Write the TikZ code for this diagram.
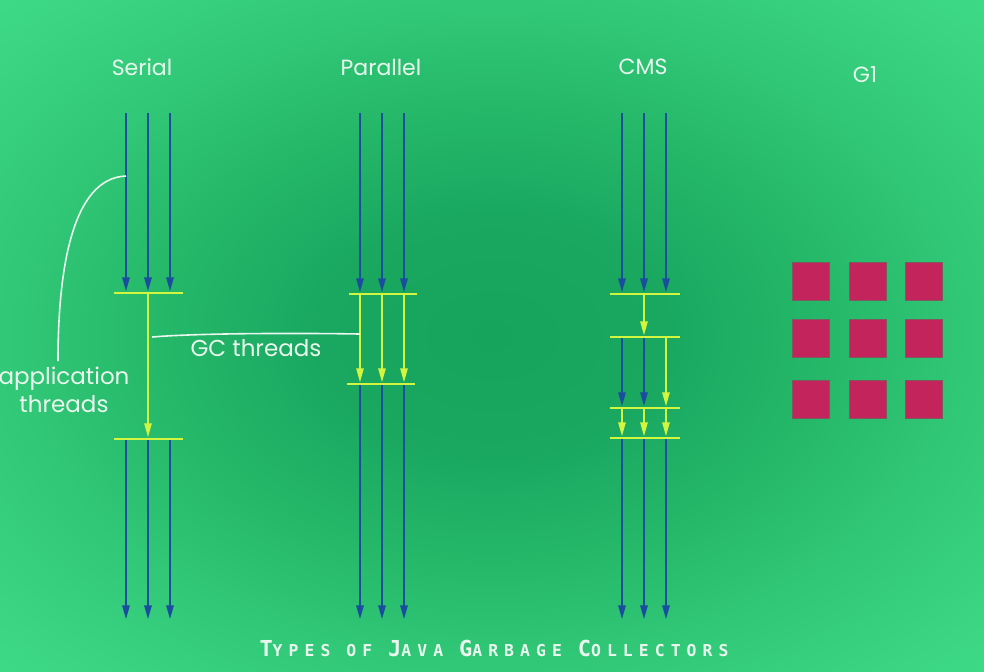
\documentclass[tikz,border=0pt]{standalone}
\usepackage{fontspec}
\setmainfont{Poppins}
\newfontfamily\titlefont[LetterSpace=37]{DejaVu Sans Mono Bold}
\usetikzlibrary{arrows.meta}
\definecolor{bgin}{HTML}{16A35B}
\definecolor{bgmidA}{HTML}{1AA861}
\definecolor{bgmidB}{HTML}{25B869}
\definecolor{bgmidC}{HTML}{33CB7A}
\definecolor{bgedge}{HTML}{3ED987}
\definecolor{bgout}{HTML}{42DC8A}
\definecolor{appblue}{HTML}{1B4D9E}
\definecolor{gcyellow}{HTML}{D2F53F}
\definecolor{region}{HTML}{C4245C}
\definecolor{regionedge}{HTML}{7C5A5E}
\definecolor{labelcol}{HTML}{EAF7EE}
\pgfdeclareradialshading{bgshade}{\pgfpoint{0bp}{0bp}}{color(0bp)=(bgin); color(9bp)=(bgmidA); color(17bp)=(bgmidB); color(26bp)=(bgmidC); color(35bp)=(bgedge); color(50bp)=(bgout)}
\begin{document}
\begin{tikzpicture}[x=0.5pt,y=-0.5pt,
  app/.style={draw=appblue, line width=1.1pt, -{Triangle[width=3.6pt,length=7pt]}, shorten >=0.8pt},
  gc/.style={draw=gcyellow, line width=1pt, -{Triangle[width=3.6pt,length=7pt]}, shorten >=0.8pt},
  bar/.style={draw=gcyellow, line width=1pt},
  note/.style={draw=labelcol, line width=0.8pt},
  lbl/.style={text=labelcol, font=\fontsize{11}{13}\selectfont, inner sep=0pt},
  gclbl/.style={text=labelcol, font=\fontsize{11.5}{14}\selectfont, inner sep=0pt, align=center},
  regionbox/.style={draw=regionedge, line width=0.4pt, fill=region, minimum width=18.5pt, minimum height=19pt, inner sep=0pt}]
\shade[shading=bgshade] (0,0) rectangle (984,671);
\useasboundingbox (0,0) rectangle (984,671);

% headings
\node[lbl] (serial) at (142,67) {Serial};
\node[lbl] (parallel) at (381,67) {Parallel};
\node[lbl] (cms) at (643,67) {CMS};
\node[lbl] (g1) at (865,75) {G1};

% Serial
\foreach \i/\x in {1/126,2/148,3/170} {
  \coordinate (sa\i) at (\x,113);
  \coordinate (sb\i) at (\x,293);
  \coordinate (sc\i) at (\x,439);
  \coordinate (sd\i) at (\x,621);
}
\coordinate (sbL) at (114,293); \coordinate (sbR) at (183,293);
\coordinate (scL) at (114,439); \coordinate (scR) at (183,439);
\foreach \i in {1,2,3} {
  \draw[app] (sa\i) -- (sb\i);
  \draw[app] (sc\i) -- (sd\i);
}
\draw[gc] (sb2) -- (sc2);
\draw[bar] (sbL) -- (sbR);
\draw[bar] (scL) -- (scR);

% Parallel
\foreach \i/\x in {1/360,2/382,3/404} {
  \coordinate (pa\i) at (\x,113);
  \coordinate (pb\i) at (\x,294);
  \coordinate (pc\i) at (\x,384);
  \coordinate (pd\i) at (\x,621);
}
\coordinate (pbL) at (349,294); \coordinate (pbR) at (417,294);
\coordinate (pcL) at (347,384); \coordinate (pcR) at (415,384);
\foreach \i in {1,2,3} {
  \draw[app] (pa\i) -- (pb\i);
  \draw[gc] (pb\i) -- (pc\i);
  \draw[app] (pc\i) -- (pd\i);
}
\draw[bar] (pbL) -- (pbR);
\draw[bar] (pcL) -- (pcR);

% CMS
\foreach \i/\x in {1/622,2/644,3/666} {
  \coordinate (ca\i) at (\x,113);
  \coordinate (cb\i) at (\x,294);
  \coordinate (cc\i) at (\x,337);
  \coordinate (cd\i) at (\x,408);
  \coordinate (ce\i) at (\x,438);
  \coordinate (cf\i) at (\x,621);
}
\foreach \y/\n in {294/b,337/c,408/d,438/e} {
  \coordinate (c\n L) at (610,\y); \coordinate (c\n R) at (680,\y);
}
\foreach \i in {1,2,3} {
  \draw[app] (ca\i) -- (cb\i);
  \draw[gc] (cd\i) -- (ce\i);
  \draw[app] (ce\i) -- (cf\i);
}
\draw[gc] (cb2) -- (cc2);
\draw[app] (cc1) -- (cd1);
\draw[app] (cc2) -- (cd2);
\draw[gc] (cc3) -- (cd3);
\foreach \n in {b,c,d,e} \draw[bar] (c\n L) -- (c\n R);

% G1 regions
\foreach \r/\y in {1/281,2/338,3/399} {
  \foreach \c/\x in {1/810.5,2/867.5,3/923.5} {
    \node[regionbox] (g\r\c) at (\x,\y) {};
  }
}

% annotations
\coordinate (appnoteA) at (126,176);
\coordinate (appnoteB) at (58,361);
\draw[note] (appnoteA) .. controls (72,178) and (58,270) .. (appnoteB);
\node[gclbl] (apptext) at (64,390) {application\\threads};

\coordinate (gcnoteA) at (152,337);
\coordinate (gcnoteB) at (360,334);
\draw[note] (gcnoteA) .. controls (200,333) and (300,333) .. (gcnoteB);
\node[gclbl] (gctext) at (256,348) {GC threads};

% title
\node[text=labelcol, inner sep=0pt] (title) at (494,648)
  {\titlefont\fontsize{11}{12}\selectfont T\fontsize{8.2}{12}\selectfont YPES OF
   \fontsize{11}{12}\selectfont J\fontsize{8.2}{12}\selectfont AVA
   \fontsize{11}{12}\selectfont G\fontsize{8.2}{12}\selectfont ARBAGE
   \fontsize{11}{12}\selectfont C\fontsize{8.2}{12}\selectfont OLLECTORS};
\end{tikzpicture}
\end{document}
